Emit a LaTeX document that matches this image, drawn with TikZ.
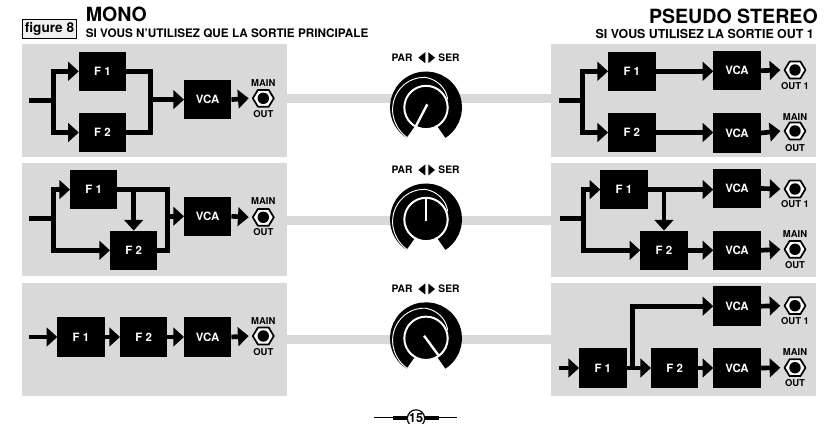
\documentclass[tikz,border=0pt]{standalone}
\usepackage{fontspec}
\setmainfont{TeX Gyre Heros}
\usetikzlibrary{arrows.meta,calc}
\definecolor{panelgray}{HTML}{D9D9D9}
\tikzset{
  x=0.75pt,y=-0.75pt,
  panel/.style={fill=panelgray,draw=none},
  blk/.style={fill=black,text=white,draw=none,minimum width=35.6pt,minimum height=29.6pt,inner sep=0pt,outer sep=0pt,font=\fontsize{8.6pt}{9pt}\selectfont\bfseries},
  wire/.style={draw=black,line width=3.5pt,line join=miter},
  arrowwire/.style={wire,-{Triangle[length=8pt,width=14pt]}},
  jacknode/.style={circle,fill=black,minimum size=8.6pt,inner sep=0pt,outer sep=6.7pt},
  jackhex/.style={draw=black,fill=white,line width=1.3pt,line join=round},
  jacklabel/.style={inner sep=0pt,font=\fontsize{7.1pt}{8pt}\selectfont\bfseries},
  parlabel/.style={inner sep=0pt,font=\fontsize{7.7pt}{8pt}\selectfont\bfseries},
  tri/.style={fill=black,draw=none},
}
\newcommand{\jackat}[3]{%
  \draw[jackhex,shift={(#2,#3)}] (-10.5,0)--(-5.4,-8.4)--(5.4,-8.4)--(10.5,0)--(5.4,8.4)--(-5.4,8.4)--cycle;
  \node[jacknode] (#1) at (#2,#3) {};}
\newcommand{\knobat}[7]{%
  % #1 name, #2 cx, #3 cy, #4-#5 start (y up), #6-#7 end (y up)
  \begin{scope}[shift={(#2,#3)},x=0.75pt,y=0.75pt]
    \draw[black,line width=10.2pt,line cap=butt] (-58:29.2) arc[start angle=-58,end angle=238,radius=29.2];
    \draw[white,line width=0.7pt] plot[domain=238:90,samples=30] ({(30+0.037*(\x-90))*cos(\x)},{(30+0.037*(\x-90))*sin(\x)})
       -- plot[domain=90:20,samples=15] ({(30-0.1*(90-\x))*cos(\x)},{(30-0.1*(90-\x))*sin(\x)});
    \node[circle,fill=black,draw=white,line width=1.5pt,minimum size=32.5pt,inner sep=0pt] (#1) at (0,0) {};
    \draw[white,line width=1.8pt] (#4,#5) -- (#6,#7);
  \end{scope}}
\begin{document}
\begin{tikzpicture}
\useasboundingbox (0,0) rectangle (832,424);
% bands
\fill[panel] (286,94) rectangle (552,103);
\fill[panel] (286,216) rectangle (552,225.5);
\fill[panel] (286,335) rectangle (552,344);
% panels
\fill[panel] (22,44) rectangle (286.5,157);
\fill[panel] (22,163) rectangle (286.5,276);
\fill[panel] (22,283) rectangle (286.5,396);
\fill[panel] (551,44) rectangle (816,157);
\fill[panel] (551,163) rectangle (816,276.5);
\fill[panel] (551,283) rectangle (816,396);

% header
\node[draw=black,fill=panelgray!40,line width=0.8pt,minimum width=41pt,minimum height=14.5pt,inner sep=0pt,font=\fontsize{10.2pt}{11pt}\selectfont\bfseries] (figlabel) at (49.5,29.3) {figure 8};
\node[anchor=west,inner sep=0pt,font=\fontsize{14.7pt}{16pt}\selectfont\bfseries] (mono) at (85.5,14.5) {MONO};
\node[anchor=west,inner sep=0pt,font=\fontsize{8.8pt}{9pt}\selectfont\bfseries] (monosub) at (85.5,33) {SI VOUS N’UTILISEZ QUE LA SORTIE PRINCIPALE};
\node[anchor=east,inner sep=0pt,font=\fontsize{14.7pt}{16pt}\selectfont\bfseries] (pseudo) at (818,16.5) {PSEUDO STEREO};
\node[anchor=east,inner sep=0pt,font=\fontsize{9.3pt}{10pt}\selectfont\bfseries] (pseudosub) at (814,34) {SI VOUS UTILISEZ LA SORTIE OUT 1};

% ===== Left 1
\node[blk] (a1) at (102.5,71.3) {F 1};
\node[blk] (a2) at (102.5,132.5) {F 2};
\node[blk] (av) at (207.7,99.6) {VCA};
\jackat{aj}{263.3}{98.3}
\node[jacklabel] (ajm) at (263.3,83.3) {MAIN};
\node[jacklabel] (ajo) at (263.3,114) {OUT};
\coordinate (ain) at (29.3,100.7);
\coordinate (at) at (53.3,100.7);
\coordinate (ac) at (150.7,99.6);
\draw[wire] (ain) -- (at);
\draw[arrowwire] (at) |- (a1.west);
\draw[arrowwire] (at) |- (a2.west);
\draw[wire] (a1.east) -| (ac) |- (a2.east);
\draw[arrowwire] (ac) -- (av.west);
\draw[arrowwire] (av.east) -- (aj.west);

% ===== Right 1
\node[blk] (b1) at (631.8,71.3) {F 1};
\node[blk] (b2) at (631.8,132.5) {F 2};
\node[blk] (bv1) at (737,70.7) {VCA};
\node[blk] (bv2) at (737,133) {VCA};
\jackat{bj1}{795}{70}
\jackat{bj2}{795}{131}
\node[jacklabel] (bjo1) at (795,86) {OUT 1};
\node[jacklabel] (bjm) at (795,116.7) {MAIN};
\node[jacklabel] (bjo2) at (795,148.3) {OUT};
\coordinate (bin) at (559.3,100.7);
\coordinate (bt) at (582.3,100.7);
\draw[wire] (bin) -- (bt);
\draw[arrowwire] (bt) |- (b1.west);
\draw[arrowwire] (bt) |- (b2.west);
\draw[arrowwire] (b1.east) -- (b1.east -| bv1.west);
\draw[arrowwire] (b2.east) -- (b2.east -| bv2.west);
\draw[arrowwire] (bv1.east) -- (bj1.west);
\draw[arrowwire] (bv2.east) -- (bj2.west);

% ===== Left 2
\node[blk] (c1) at (93.7,189.6) {F 1};
\node[blk] (c2) at (133.7,250.3) {F 2};
\node[blk] (cv) at (207.7,216.3) {VCA};
\jackat{cj}{263.3}{217.3}
\node[jacklabel] (cjm) at (263.3,200.7) {MAIN};
\node[jacklabel] (cjo) at (263.3,231.7) {OUT};
\coordinate (cin) at (29.3,218.7);
\coordinate (ct) at (53.3,218.7);
\coordinate (cc) at (167.3,216.3);
\coordinate (cb) at (133.7,189.6);
\draw[wire] (cin) -- (ct);
\draw[arrowwire] (ct) |- (c1.west);
\draw[arrowwire] (ct) |- (c2.west);
\draw[wire] (c1.east) -| (cc) |- (c2.east);
\draw[arrowwire] (cc) -- (cv.west);
\draw[arrowwire] (cb) -- (c2.north);
\draw[arrowwire] (cv.east) -- (cj.west);

% ===== Right 2
\node[blk] (d1) at (624,189.6) {F 1};
\node[blk] (d2) at (664,250.3) {F 2};
\node[blk] (dv1) at (737,188.5) {VCA};
\node[blk] (dv2) at (737,250.3) {VCA};
\jackat{dj1}{795}{189}
\jackat{dj2}{795}{249.3}
\node[jacklabel] (djo1) at (795,204.3) {OUT 1};
\node[jacklabel] (djm) at (795,234) {MAIN};
\node[jacklabel] (djo2) at (795,265) {OUT};
\coordinate (din) at (560,218.7);
\coordinate (dt) at (583.3,218.7);
\coordinate (db) at (664,189.6);
\draw[wire] (din) -- (dt);
\draw[arrowwire] (dt) |- (d1.west);
\draw[arrowwire] (dt) |- (d2.west);
\draw[arrowwire] (d1.east) -- (d1.east -| dv1.west);
\draw[arrowwire] (db) -- (d2.north);
\draw[arrowwire] (d2.east) -- (dv2.west);
\draw[arrowwire] (dv1.east) -- (dj1.west);
\draw[arrowwire] (dv2.east) -- (dj2.west);

% ===== Left 3
\node[blk] (e1) at (81,337) {F 1};
\node[blk] (e2) at (143.7,337) {F 2};
\node[blk] (ev) at (207.7,337) {VCA};
\jackat{ej}{263.3}{336}
\node[jacklabel] (ejm) at (263.3,321) {MAIN};
\node[jacklabel] (ejo) at (263.3,351.7) {OUT};
\coordinate (ein) at (29.3,337);
\draw[arrowwire] (ein) -- (e1.west);
\draw[arrowwire] (e1.east) -- (e2.west);
\draw[arrowwire] (e2.east) -- (ev.west);
\draw[arrowwire] (ev.east) -- (ej.west);

% ===== Right 3
\node[blk] (f1) at (602.8,368) {F 1};
\node[blk] (f2) at (674.7,368) {F 2};
\node[blk] (fv1) at (737,306.2) {VCA};
\node[blk] (fv2) at (737,368) {VCA};
\jackat{fj1}{795}{305.7}
\jackat{fj2}{795}{367.7}
\node[jacklabel] (fjo1) at (795,321) {OUT 1};
\node[jacklabel] (fjm) at (795,351.7) {MAIN};
\node[jacklabel] (fjo2) at (795,382.7) {OUT};
\coordinate (fin) at (559.3,368);
\coordinate (fb) at (632.7,368);
\draw[arrowwire] (fin) -- (f1.west);
\draw[arrowwire] (f1.east) -- (f2.west);
\draw[arrowwire] (fb) |- (fv1.west);
\draw[arrowwire] (f2.east) -- (fv2.west);
\draw[arrowwire] (fv1.east) -- (fj1.west);
\draw[arrowwire] (fv2.east) -- (fj2.west);

% ===== Knobs
\knobat{k1}{426}{107.5}{1.3}{3.2}{-10}{-18.5}
\knobat{k2}{426}{219.5}{0}{-2}{0}{21}
\knobat{k3}{426}{338.3}{-2}{2.6}{13}{-17.7}
% PAR / SER
\node[parlabel] (p1) at (402,57.7) {PAR};
\node[parlabel] (s1) at (449,57.7) {SER};
\node[parlabel] (p2) at (402,170) {PAR};
\node[parlabel] (s2) at (449,170) {SER};
\node[parlabel] (p3) at (402,289) {PAR};
\node[parlabel] (s3) at (449,289) {SER};
\foreach \yy in {57.7,170,289}{
  \fill[tri] (418.3,\yy) -- (425.3,\yy-5.5) -- (425.3,\yy+5.5) -- cycle;
  \fill[tri] (435,\yy) -- (428.3,\yy-5.5) -- (428.3,\yy+5.5) -- cycle;
}
% page number
\coordinate (pl) at (374.3,417.7);
\coordinate (pr) at (457.3,417.7);
\draw[black,line width=0.8pt] (pl) -- (pr);
\draw[black,line width=3.2pt] (393.3,417.7) -- (439.3,417.7);
\node[circle,draw=black,fill=white,line width=0.9pt,minimum size=13pt,inner sep=0pt,font=\fontsize{9.5pt}{10pt}\selectfont\bfseries] (pg) at (416,418.5) {15};
\end{tikzpicture}
\end{document}
